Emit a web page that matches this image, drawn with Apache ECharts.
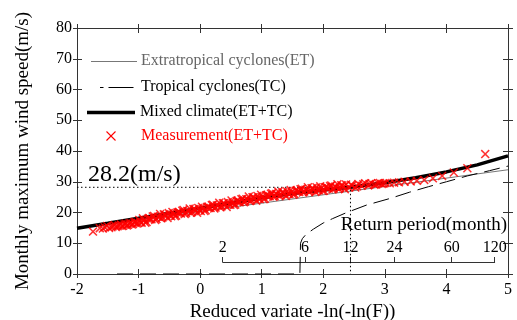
<!DOCTYPE html>
<html><head><meta charset="utf-8">
<script src="https://cdn.jsdelivr.net/npm/echarts@6/dist/echarts.min.js"></script>
<style>html,body{margin:0;padding:0;background:#fff}#c{width:517px;height:320px}</style>
</head><body><div id="c"></div>
<script>
// ---- data ----
const xTickLabels = [-2, -1, 0, 1, 2, 3, 4, 5];
const yTickLabels = [0, 10, 20, 30, 40, 50, 60, 70, 80];
const returnPeriods = [2, 6, 12, 24, 60, 120];
const designValue = 28.2;
const designPeriod = 12;

const legendNames = ['Extratropical cyclones(ET)', 'Tropical cyclones(TC)', 'Mixed climate(ET+TC)', 'Measurement(ET+TC)'];

const etX = [-2, 5];
const etY = [14.9, 33.9];

const tcX = [-1.35, 1.62, 1.63, 1.66, 1.72, 1.84, 2.0, 2.15, 2.37, 2.7, 3.09, 3.4, 3.71, 4.0, 4.34, 4.7, 5.0];
const tcY = [0, 0, 10.0, 11.5, 12.9, 14.6, 16.6, 18.0, 19.9, 22.4, 24.6, 26.6, 28.4, 30.0, 31.9, 33.6, 35.1];

const mixedX = [-2, -1.5, -1.2, -1, -0.5, 0, 0.5, 1, 1.5, 2, 2.44, 3, 3.5, 4, 4.5, 5];
const mixedY = [14.9, 16.5, 17.5, 18.1, 19.8, 21.4, 23.1, 24.8, 26.2, 27.3, 28.2, 29.7, 31.3, 33.2, 35.5, 38.4];

const measX = [-1.74, -1.63, -1.55, -1.48, -1.42, -1.37, -1.32, -1.27, -1.23, -1.19, -1.15, -1.11, -1.07, -1.03,
  -0.99, -0.95, -0.91, -0.87, -0.83, -0.79, -0.75, -0.71, -0.67, -0.63, -0.59, -0.55, -0.51, -0.47, -0.43, -0.39,
  -0.35, -0.31, -0.27, -0.23, -0.19, -0.15, -0.11, -0.07, -0.03, 0.01, 0.05, 0.09, 0.13, 0.17, 0.21, 0.25, 0.29,
  0.33, 0.37, 0.41, 0.45, 0.49, 0.53, 0.57, 0.61, 0.65, 0.69, 0.73, 0.77, 0.81, 0.85, 0.89, 0.93, 0.97, 1.01,
  1.05, 1.09, 1.13, 1.17, 1.21, 1.25, 1.29, 1.33, 1.37, 1.41, 1.45, 1.49, 1.53, 1.57, 1.61, 1.65, 1.69, 1.73,
  1.77, 1.81, 1.85, 1.89, 1.93, 1.97, 2.01, 2.05, 2.09, 2.13, 2.17, 2.21, 2.25, 2.29, 2.33, 2.37, 2.42, 2.47,
  2.52, 2.57, 2.62, 2.68, 2.73, 2.78, 2.83, 2.89, 2.95, 3.01, 3.08, 3.15, 3.23, 3.32, 3.42, 3.52, 3.64, 3.78,
  3.93, 4.12, 4.34, 4.63];
const measY = [13.8, 14.9, 15.2, 15.0, 15.5, 15.3, 15.8, 15.6, 16.1, 15.8, 16.4, 16.1, 16.8, 16.4,
  17.6, 16.7, 17.5, 16.9, 18.2, 17.8, 18.9, 17.9, 18.5, 18.1, 19.4, 18.9, 19.8, 18.8, 19.6, 19.0,
  20.2, 19.7, 20.8, 19.8, 20.4, 19.9, 21.1, 20.7, 21.5, 20.5, 21.3, 20.7, 21.9, 21.5, 22.5, 21.6, 22.2,
  21.7, 23.0, 22.5, 23.4, 22.5, 23.2, 22.6, 23.9, 23.4, 24.5, 23.6, 24.2, 23.7, 25.0, 24.5, 25.4, 24.4, 25.1,
  24.5, 25.7, 25.3, 26.3, 25.3, 25.9, 25.4, 26.6, 26.1, 26.9, 26.0, 26.7, 26.0, 27.2, 26.7, 27.7, 26.8, 27.3,
  26.7, 27.9, 27.4, 28.2, 27.2, 27.9, 27.1, 28.3, 27.8, 28.8, 27.8, 28.2, 27.7, 28.9, 28.4, 29.1, 28.1, 28.8,
  28.1, 29.3, 28.7, 29.5, 28.8, 29.5, 29.0, 29.5, 29.3, 29.6, 29.5, 29.7, 29.8, 30.0, 30.1, 30.3, 30.6, 31.1,
  31.9, 33.0, 34.4, 39.0];

// second batch of measurement points (dense part of the band)
const measX2 = [-1.58, -1.51, -1.44, -1.39, -1.34, -1.29, -1.25, -1.21, -1.17, -1.13, -1.09, -1.05, -1.01,
  -0.97, -0.93, -0.89, -0.85, -0.81, -0.77, -0.73, -0.69, -0.65, -0.61, -0.57, -0.53, -0.49, -0.45, -0.41,
  -0.37, -0.33, -0.29, -0.25, -0.21, -0.17, -0.13, -0.09, -0.05, -0.01, 0.03, 0.07, 0.11, 0.15, 0.19, 0.23,
  0.27, 0.31, 0.35, 0.39, 0.43, 0.47, 0.51, 0.55, 0.59, 0.63, 0.67, 0.71, 0.75, 0.79, 0.83, 0.87, 0.91, 0.95,
  0.99, 1.03, 1.07, 1.11, 1.15, 1.19, 1.23, 1.27, 1.31, 1.35, 1.39, 1.43, 1.47, 1.51, 1.55, 1.59, 1.63, 1.67,
  1.71, 1.75, 1.79, 1.83, 1.87, 1.91, 1.95, 1.99, 2.03, 2.07, 2.11, 2.15, 2.19, 2.23, 2.27, 2.31, 2.35,
  2.45, 2.55, 2.65, 2.75, 2.86, 2.92, 2.98];
const measY2 = [14.8, 15.6, 15.2, 15.9, 15.5, 16.1, 15.7, 16.4, 16.0, 16.6, 16.3, 17.0, 16.6,
  16.8, 18.1, 16.7, 18.0, 17.8, 18.7, 17.6, 18.6, 19.5, 18.4, 19.3, 18.2, 19.0, 20.2, 18.8,
  20.0, 19.8, 20.6, 19.5, 20.5, 21.3, 20.2, 21.1, 19.9, 20.7, 21.9, 20.5, 21.8, 21.5, 22.4, 21.3,
  22.3, 23.2, 22.0, 23.0, 21.8, 22.6, 23.9, 22.4, 23.7, 23.4, 24.3, 23.3, 24.3, 25.2, 24.0, 25.0, 23.8, 24.5,
  25.8, 24.3, 25.6, 25.3, 26.1, 25.1, 26.0, 26.8, 25.7, 26.6, 25.4, 26.1, 27.3, 25.8, 27.1, 26.8, 27.6, 26.5,
  27.4, 28.2, 27.0, 27.9, 26.7, 27.3, 28.5, 27.0, 28.2, 27.9, 28.6, 27.5, 28.4, 29.2, 28.0, 28.8, 27.6,
  29.0, 28.5, 29.2, 29.3, 29.1, 29.6, 29.4];

// ---- helpers ----
const zip = (xs, ys) => xs.map((x, i) => [x, ys[i]]);
const gumbel = T => -Math.log(-Math.log(1 - 1 / T));
const rpX = returnPeriods.map(gumbel);
const designX = gumbel(designPeriod);

const FONT = '"Liberation Serif", "Times New Roman", serif';
const AX = '#333';
const xPath = 'path://M0,1.2L1.2,0L5,3.8L8.8,0L10,1.2L6.2,5L10,8.8L8.8,10L5,6.2L1.2,10L0,8.8L3.8,5Z';

const chart = echarts.init(document.getElementById('c'), null, {renderer: 'canvas'});

const xBase = {min: xTickLabels[0], max: xTickLabels[xTickLabels.length - 1], interval: 1, type: 'value', gridIndex: 0, splitLine: {show: false}};
const yBase = {min: yTickLabels[0], max: yTickLabels[yTickLabels.length - 1], interval: 10, type: 'value', gridIndex: 0, splitLine: {show: false}};
const line1 = {show: true, onZero: false, lineStyle: {color: AX, width: 1}};
const noLine = {show: false, onZero: false};

const option = {
  animation: false,
  backgroundColor: '#fff',
  grid: [
    {left: 77, right: 9, top: 28, bottom: 46, containLabel: false, outerBoundsMode: 'none'},
    {left: 220, width: 270, top: 262, height: 10, containLabel: false, outerBoundsMode: 'none'}
  ],
  xAxis: [
    Object.assign({}, xBase, {position: 'bottom', axisLine: line1,
      axisTick: {show: true, inside: true, length: 5, lineStyle: {color: AX}},
      axisLabel: {show: true, margin: 8, color: '#000', fontSize: 16, fontFamily: FONT},
      name: 'Reduced variate -ln(-ln(F))', nameLocation: 'middle', nameGap: 24,
      nameTextStyle: {color: '#000', fontSize: 19, fontFamily: FONT}}),
    Object.assign({}, xBase, {position: 'top', axisLine: line1,
      axisTick: {show: true, inside: true, length: 5, lineStyle: {color: AX}},
      axisLabel: {show: false}}),
    Object.assign({}, xBase, {position: 'bottom', axisLine: noLine,
      axisTick: {show: true, inside: false, length: 4, lineStyle: {color: AX}},
      axisLabel: {show: false}}),
    Object.assign({}, xBase, {position: 'top', axisLine: noLine,
      axisTick: {show: true, inside: false, length: 4, lineStyle: {color: AX}},
      axisLabel: {show: false}}),
    {type: 'value', gridIndex: 1, position: 'top', min: rpX[0], max: rpX[rpX.length - 1],
      splitLine: {show: false}, axisLine: line1,
      axisTick: {show: true, inside: false, length: 5, customValues: rpX, lineStyle: {color: AX}},
      axisLabel: {show: true, margin: 6, customValues: rpX, color: '#000', fontSize: 16, fontFamily: FONT,
        formatter: v => {
          let best = 0;
          rpX.forEach((p, i) => { if (Math.abs(p - v) < Math.abs(rpX[best] - v)) best = i; });
          return String(returnPeriods[best]);
        }}}
  ],
  yAxis: [
    Object.assign({}, yBase, {position: 'left', axisLine: line1,
      axisTick: {show: true, inside: true, length: 5, lineStyle: {color: AX}},
      axisLabel: {show: true, margin: 5, color: '#000', fontSize: 16, fontFamily: FONT},
      name: 'Monthly maximum wind speed(m/s)', nameLocation: 'middle', nameGap: 44,
      nameTextStyle: {color: '#000', fontSize: 19, fontFamily: FONT}}),
    Object.assign({}, yBase, {position: 'right', axisLine: line1,
      axisTick: {show: true, inside: true, length: 5, lineStyle: {color: AX}},
      axisLabel: {show: false}}),
    Object.assign({}, yBase, {position: 'left', axisLine: noLine,
      axisTick: {show: true, inside: false, length: 4, lineStyle: {color: AX}},
      axisLabel: {show: false}}),
    Object.assign({}, yBase, {position: 'right', axisLine: noLine,
      axisTick: {show: true, inside: false, length: 5, lineStyle: {color: AX}},
      axisLabel: {show: false}}),
    {type: 'value', gridIndex: 1, show: false, min: 0, max: 1}
  ],
  series: [
    {type: 'line', name: legendNames[0], data: zip(etX, etY), symbol: 'none', silent: true,
      lineStyle: {color: '#777', width: 1}},
    {type: 'line', name: legendNames[1], data: zip(tcX, tcY), symbol: 'none', silent: true,
      lineStyle: {color: '#000', width: 1, type: [16, 7]}},
    {type: 'line', name: legendNames[2], data: zip(mixedX, mixedY), symbol: 'none', silent: true,
      lineStyle: {color: '#000', width: 3.5}},
    {type: 'line', name: 'design', data: [[xTickLabels[0], designValue], [designX, designValue], [designX, 0]],
      symbol: 'none', silent: true, lineStyle: {color: '#000', width: 1, type: [1.5, 2.5]}},
    {type: 'scatter', name: legendNames[3], data: zip(measX, measY).concat(zip(measX2, measY2)),
      symbol: xPath, symbolSize: 9, silent: true, itemStyle: {color: '#ff0000'}, z: 5}
  ],
  graphic: []
};
chart.setOption(option);

// place the return-period axis using the main x scale
const p0 = chart.convertToPixel({xAxisIndex: 0}, rpX[0]);
const p1 = chart.convertToPixel({xAxisIndex: 0}, rpX[rpX.length - 1]);
const py = chart.convertToPixel({yAxisIndex: 0}, designValue);

const txt = (text, x, y, size, color, align) => ({
  type: 'text', silent: true,
  style: {text: text, x: x, y: y, font: size + 'px ' + FONT, fill: color,
    textAlign: align || 'left', align: align || 'left', textVerticalAlign: 'middle', verticalAlign: 'middle'}
});
const ln = (x1, y1, x2, y2, color, w) => ({
  type: 'line', silent: true, shape: {x1: x1, y1: y1, x2: x2, y2: y2},
  style: {stroke: color, lineWidth: w}
});

chart.setOption({
  grid: [{}, {left: p0, width: p1 - p0, top: 262, height: 10}],
  graphic: [
    ln(91, 61.5, 137, 61.5, '#777', 1),
    txt(legendNames[0], 141, 61, 16, '#666'),
    ln(100, 87.5, 103.5, 87.5, '#000', 1),
    ln(108.5, 87.5, 133.5, 87.5, '#000', 1),
    txt(legendNames[1], 141, 87, 16, '#000'),
    ln(87, 112.5, 135, 112.5, '#000', 3.5),
    txt(legendNames[2], 140, 112, 16, '#000'),
    ln(106.5, 131.5, 115.5, 140.5, '#ff0000', 1.1),
    ln(115.5, 131.5, 106.5, 140.5, '#ff0000', 1.1),
    txt(legendNames[3], 141, 136, 16, '#ff0000'),
    txt(designValue.toFixed(1) + '(m/s)', 88, py - 13, 24, '#000'),
    txt('Return period(month)', 507, 225, 19, '#000', 'right')
  ]
});
</script></body></html>
